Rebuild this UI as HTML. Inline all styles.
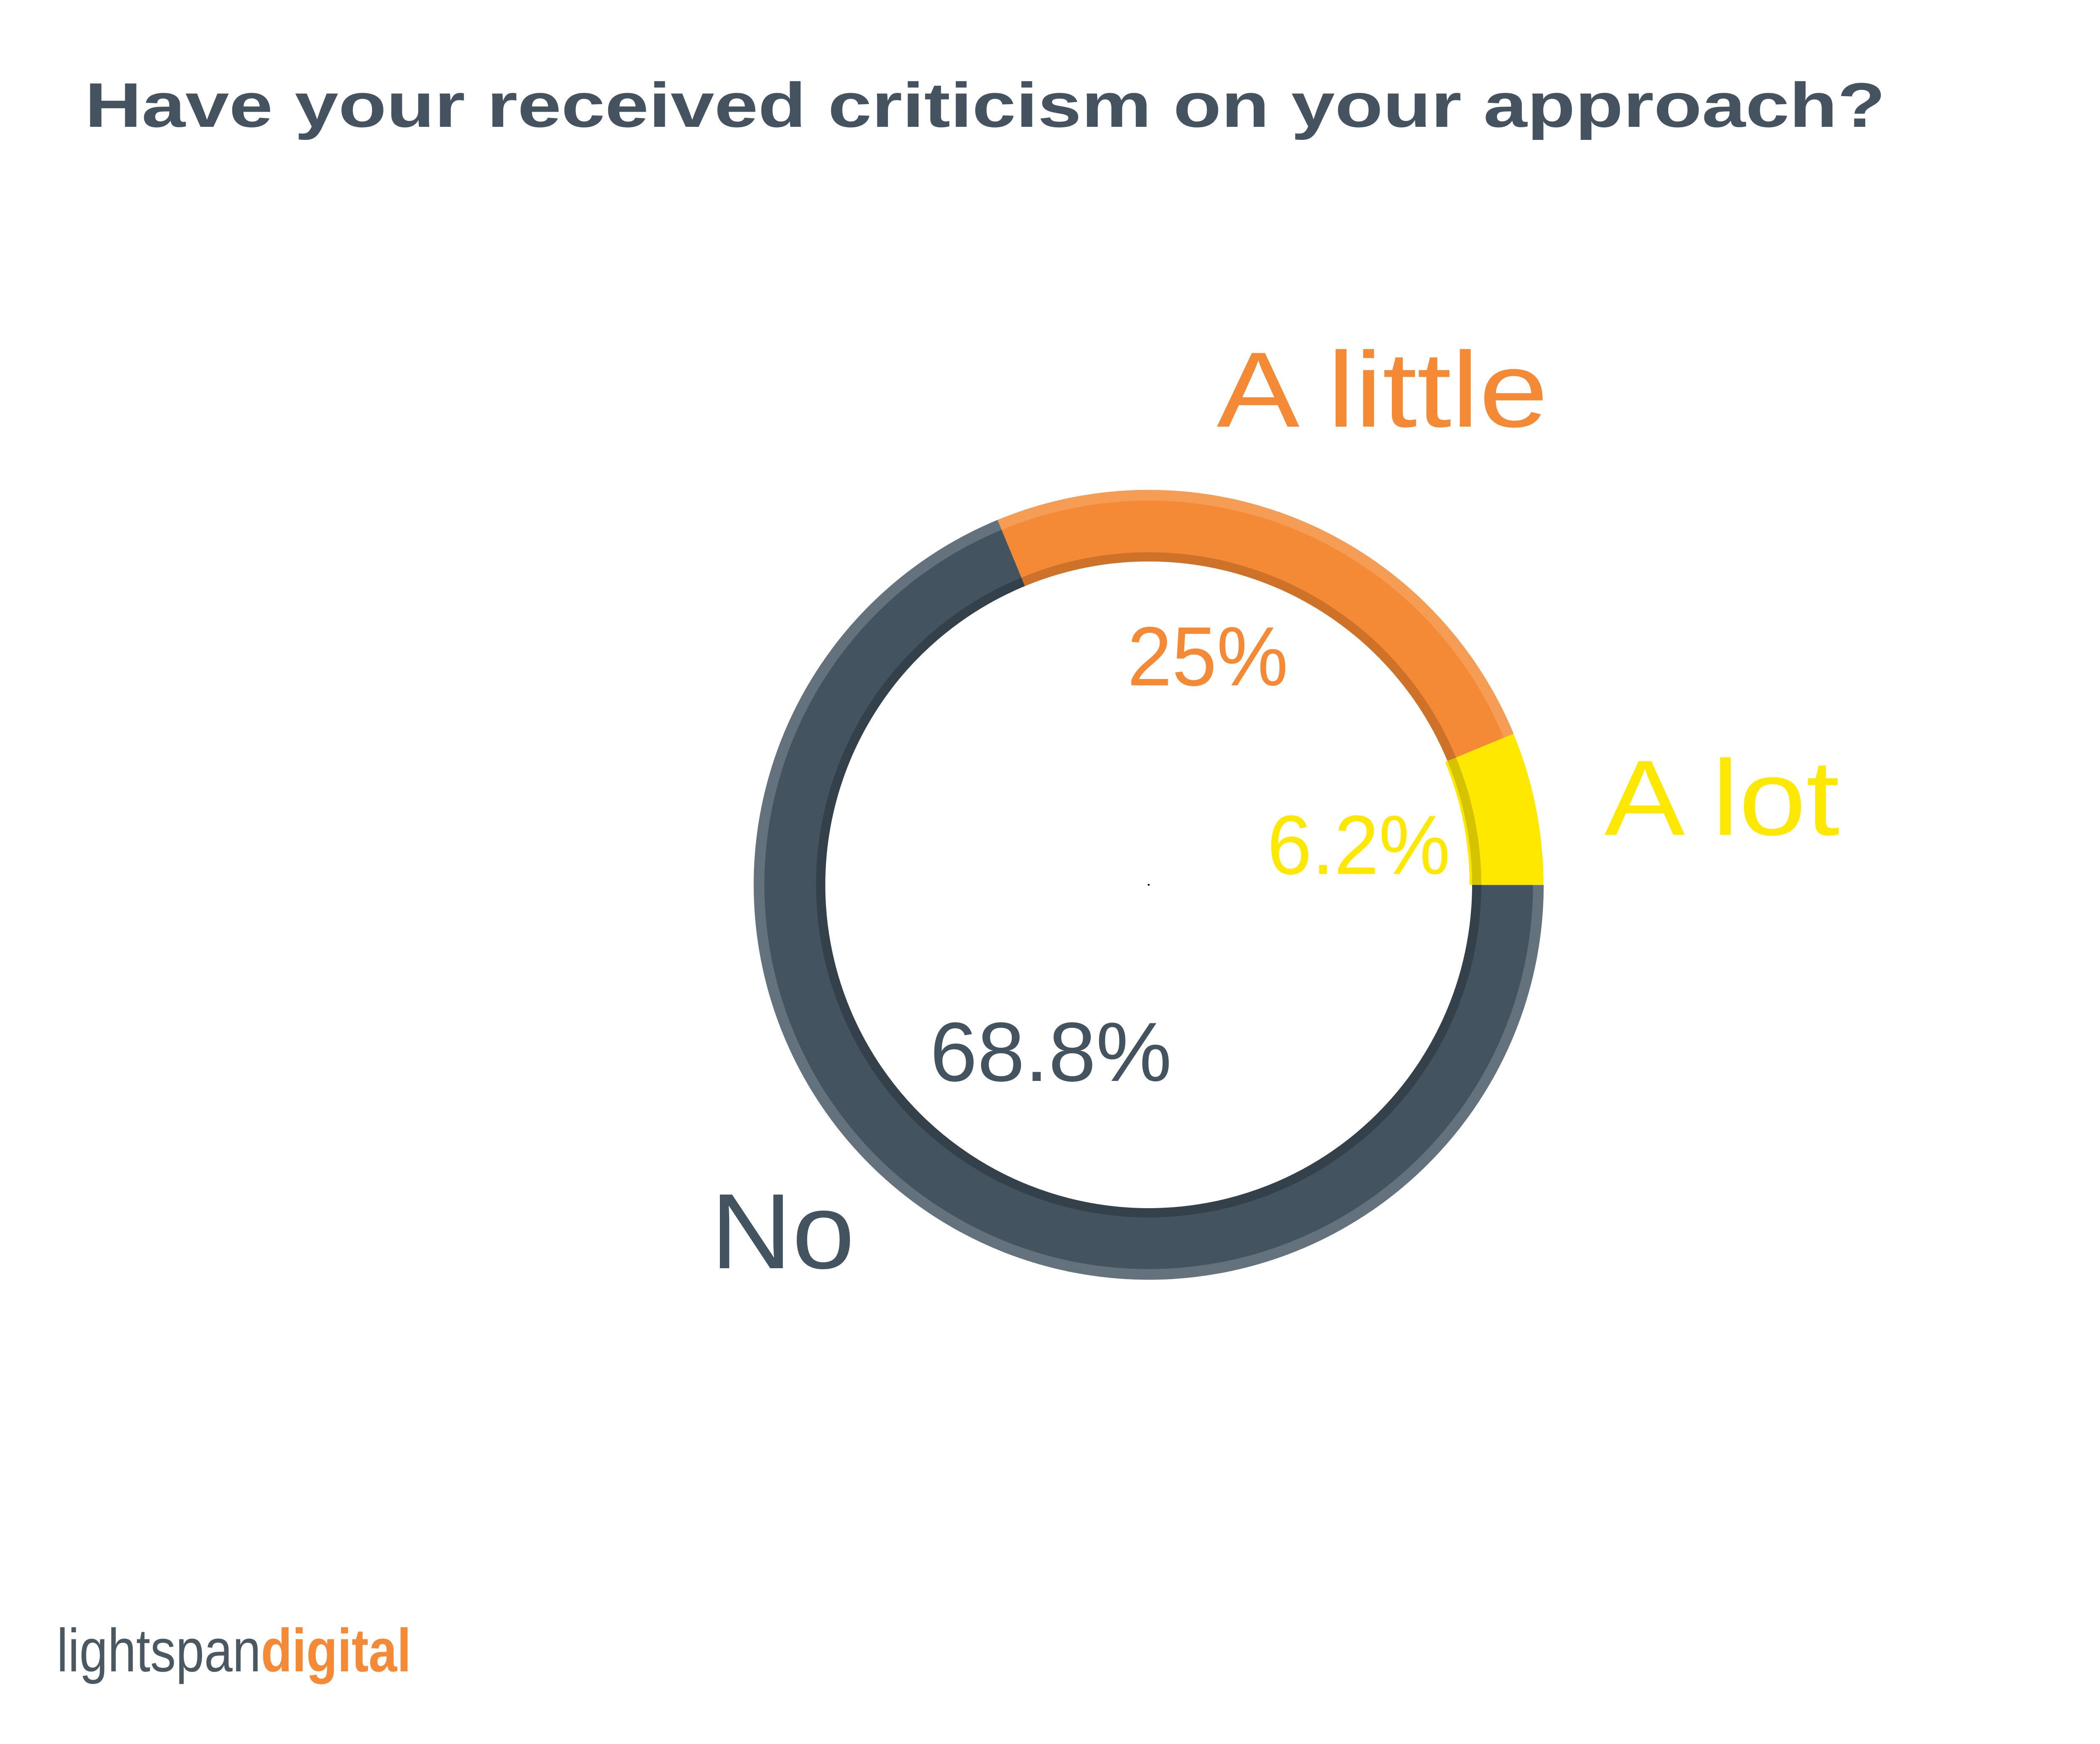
<!DOCTYPE html>
<html><head><meta charset="utf-8"><style>html,body{margin:0;padding:0;background:#fff}svg{display:block}</style></head>
<body>
<svg width="5217" height="4153" viewBox="0 0 5217 4153" xmlns="http://www.w3.org/2000/svg" font-family="'Liberation Sans', sans-serif">
<rect width="5217" height="4153" fill="#fff"/>
<text x="202" y="302" font-size="150" font-weight="bold" fill="#44535f" textLength="4287" lengthAdjust="spacingAndGlyphs">Have your received criticism on your approach?</text>
<g transform="translate(2735,2107) scale(1,-1)" fill="none">
  <!-- gray -->
  <circle r="927" pathLength="360" stroke="#63727d" stroke-width="27" stroke-dasharray="247.5 112.5" stroke-dashoffset="-112.5"/>
  <circle r="852" pathLength="360" stroke="#43535f" stroke-width="126" stroke-dasharray="247.5 112.5" stroke-dashoffset="-112.5"/>
  <circle r="781" pathLength="360" stroke="#34414a" stroke-width="22" stroke-dasharray="247.5 112.5" stroke-dashoffset="-112.5"/>
  <!-- orange -->
  <circle r="927" pathLength="360" stroke="#f69d55" stroke-width="27" stroke-dasharray="90 270" stroke-dashoffset="-22.5"/>
  <circle r="852" pathLength="360" stroke="#f48a35" stroke-width="126" stroke-dasharray="90 270" stroke-dashoffset="-22.5"/>
  <circle r="781" pathLength="360" stroke="#cf7229" stroke-width="22" stroke-dasharray="90 270" stroke-dashoffset="-22.5"/>
  <!-- yellow -->
  <circle r="852" pathLength="360" stroke="#ffe800" stroke-width="176" stroke-dasharray="22.5 337.5" stroke-dashoffset="0"/>
  <circle r="781" pathLength="360" stroke="#d6c300" stroke-width="22" stroke-dasharray="22.5 337.5" stroke-dashoffset="0"/>
</g>
<rect x="2733" y="2105" width="4" height="4" fill="#000"/>
<text x="2897" y="1016" font-size="255" fill="#f48a35" textLength="789" lengthAdjust="spacingAndGlyphs">A little</text>
<text x="2684" y="1632" font-size="200" fill="#f48a35" textLength="383" lengthAdjust="spacingAndGlyphs">25%</text>
<text x="3820" y="1988" font-size="255" fill="#ffe800" textLength="560" lengthAdjust="spacingAndGlyphs">A lot</text>
<text x="3017" y="2081" font-size="200" fill="#ffe800" textLength="436" lengthAdjust="spacingAndGlyphs">6.2%</text>
<text x="2214" y="2574" font-size="200" fill="#43535f" textLength="576" lengthAdjust="spacingAndGlyphs">68.8%</text>
<text x="1692" y="3020" font-size="255" fill="#43535f" textLength="343" lengthAdjust="spacingAndGlyphs">No</text>
<text x="135" y="3980" font-size="145" textLength="844" lengthAdjust="spacingAndGlyphs"><tspan fill="#4a5862">lightspan</tspan><tspan fill="#f48a35" font-weight="bold">digital</tspan></text>
</svg>
</body></html>
